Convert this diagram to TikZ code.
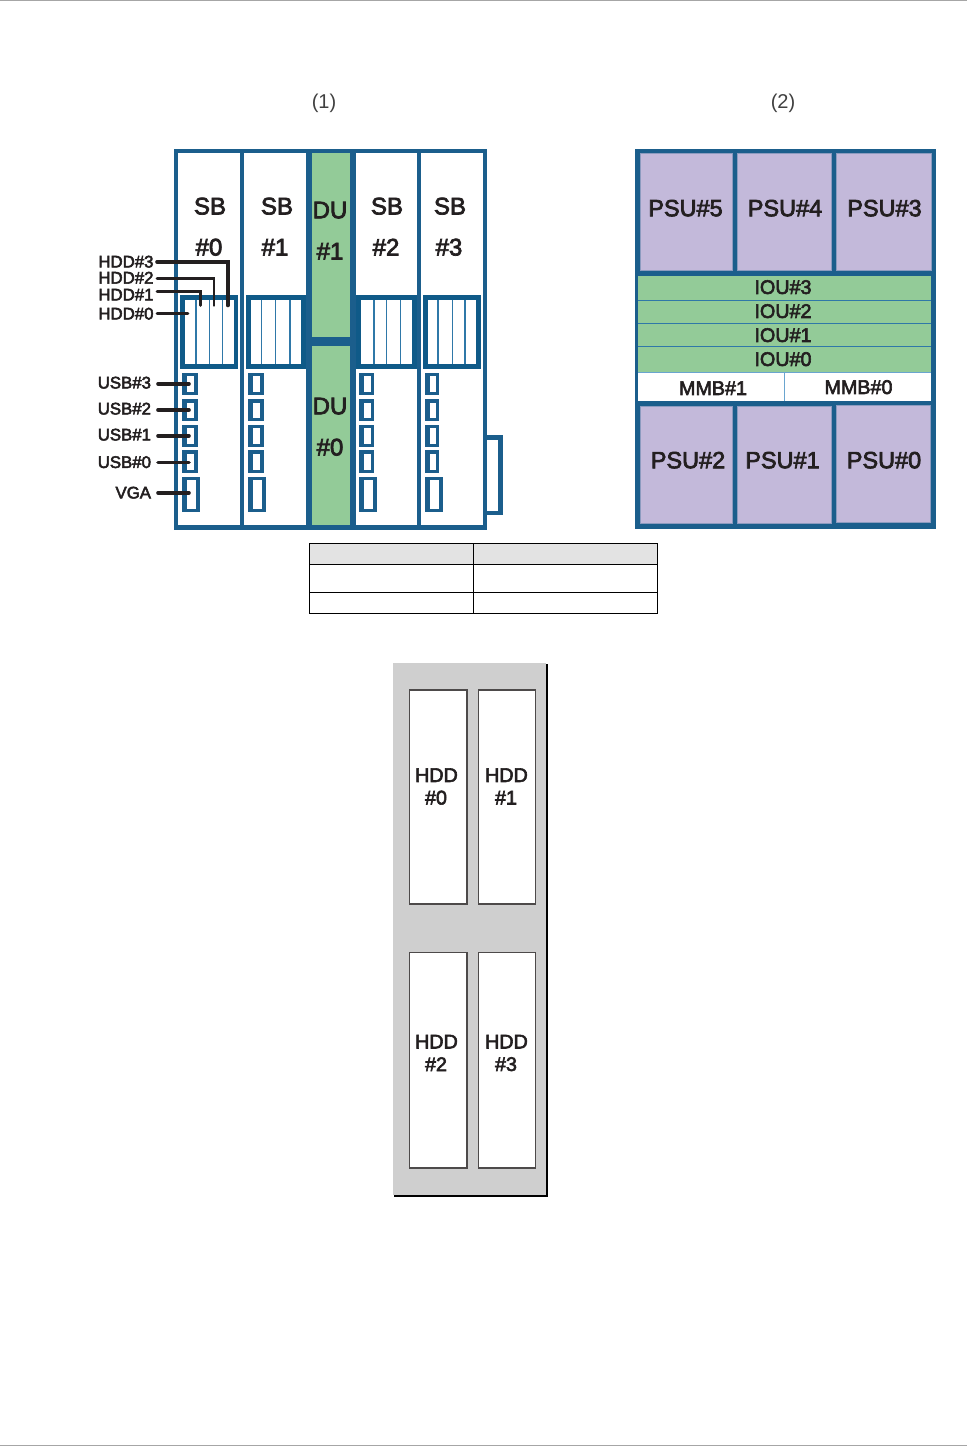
\documentclass[tikz,border=0pt]{standalone}
\usepackage{fontspec}
\setmainfont{Liberation Sans}
\newfontfamily\heavysans[FakeBold=3]{Liberation Sans}
\usetikzlibrary{calc}
\definecolor{frameblue}{HTML}{1B5E8C}
\definecolor{cageblue}{HTML}{0F5A88}
\definecolor{thinblue}{HTML}{2F78A8}
\definecolor{lightline}{HTML}{6AA5CF}
\definecolor{dugreen}{HTML}{93CB98}
\definecolor{psupurple}{HTML}{C3B9DA}
\definecolor{psuedge}{HTML}{8C9BBF}
\definecolor{inkdark}{HTML}{231F20}
\definecolor{panelgray}{HTML}{CFCFCF}
\definecolor{headgray}{HTML}{E3E3E3}
\definecolor{hddedge}{HTML}{4D4A4A}
\definecolor{rulegray}{HTML}{A6A6A6}
\newcommand{\pxfont}[1]{\heavysans\fontsize{#1}{#1}\selectfont}
\tikzset{
  x=0.75pt,y=-0.75pt,
  txt/.style={inner sep=0pt,outer sep=0pt,text=inkdark,anchor=center,yshift=0.25pt},
  bigtxt/.style={txt,font=\pxfont{18}},
  psutxt/.style={txt,font=\pxfont{17.6}},
  midtxt/.style={txt,font=\pxfont{14.8}},
  smalltxt/.style={inner sep=0pt,outer sep=0pt,text=inkdark,anchor=east,font=\pxfont{12.6},yshift=0.25pt},
  captxt/.style={inner sep=0pt,outer sep=0pt,anchor=center,font=\fontsize{15}{15}\selectfont,text=black!75},
  leader/.style={draw=inkdark,line width=2.7pt,line cap=round},
  leaderthin/.style={draw=inkdark,line width=2.1pt,line cap=round},
  psubox/.style={fill=psupurple,draw=psuedge,line width=0.5pt},
  hddbox/.style={fill=white,draw=hddedge,line width=1pt},
  tab/.style={draw=black,line width=0.75pt},
}
\begin{document}
\begin{tikzpicture}
\useasboundingbox (0,0) rectangle (967,1446);
\fill[white] (0,0) rectangle (967,1446);
% page rules
\fill[rulegray] (0,0) rectangle (967,1.2);
\fill[rulegray] (0,1444.6) rectangle (967,1446);
% captions
\node[captxt] (cap1) at (324,103.2) {(1)};
\node[captxt] (cap2) at (783,103.2) {(2)};

% --- unit (1) ---
\fill[frameblue] (173.7,148.8) rectangle (487,530);
\fill[white] (178.3,153.3) rectangle (240,525.3);
\fill[white] (244.3,153.3) rectangle (305.7,525.3);
\fill[dugreen] (312,153.3) rectangle (349.5,336.7);
\fill[dugreen] (312,345.7) rectangle (350,525.3);
\fill[white] (356,153.3) rectangle (416.7,525.3);
\fill[white] (421.3,153.3) rectangle (482.7,525.3);
% bracket
\fill[frameblue] (487,435) rectangle (502.7,515);
\fill[white] (487,439.5) rectangle (498,510.5);
% HDD cages: outerL, outerR, innerL, innerR, d1, d2, d3
\foreach \oa/\ob/\ia/\ib/\da/\db/\dc in {
  179.7/238.3/184.7/233.7/196/209.3/222.7,
  246/306/251/301/261.7/275.7/290,
  356/416.7/361.3/411.7/374/386.7/400.3,
  423/480.7/427.7/476/438/452.3/465}{
  \fill[cageblue] (\oa,295) rectangle (\ob,368.7);
  \fill[white] (\ia,300) rectangle (\ib,364);
  \foreach \d in {\da,\db,\dc}{\draw[thinblue,line width=0.9pt] (\d,300) -- (\d,364);}
}
% USB and VGA ports: left, right, VGA right
\foreach \pa/\pb/\pc in {182.3/197.7/200, 248.3/263.7/266, 359/374.3/376.7, 425.3/439.3/442.7}{
  \foreach \ya/\yb in {372.7/395.3, 399.3/420.7, 425/447.3, 450.3/473}{
    \fill[frameblue] (\pa,\ya) rectangle (\pb,\yb);
    \fill[white] ($(\pa,\ya)+(4.8,3.2)$) rectangle ($(\pb,\yb)+(-3.6,-3.2)$);
  }
  \fill[frameblue] (\pa,477) rectangle (\pc,512.3);
  \fill[white] ($(\pa,477)+(4.8,3.2)$) rectangle ($(\pc,512.3)+(-3.6,-3.2)$);
}
% slot labels
\node[bigtxt] (sb0a) at (210,206.5) {SB};
\node[bigtxt] (sb0b) at (209,247.5) {\#0};
\node[bigtxt] (sb1a) at (277,206.5) {SB};
\node[bigtxt] (sb1b) at (275,247.5) {\#1};
\node[bigtxt] (du1a) at (330,210.5) {DU};
\node[bigtxt] (du1b) at (330,251.5) {\#1};
\node[bigtxt] (du0a) at (330,406.5) {DU};
\node[bigtxt] (du0b) at (330,447.5) {\#0};
\node[bigtxt] (sb2a) at (387,206.5) {SB};
\node[bigtxt] (sb2b) at (386,247.5) {\#2};
\node[bigtxt] (sb3a) at (450,206.5) {SB};
\node[bigtxt] (sb3b) at (449,247.5) {\#3};
% port labels
\node[smalltxt] (lh3) at (153.5,262) {HDD\#3};
\node[smalltxt] (lh2) at (153.5,278) {HDD\#2};
\node[smalltxt] (lh1) at (153.5,295) {HDD\#1};
\node[smalltxt] (lh0) at (153.5,314) {HDD\#0};
\node[smalltxt] (lu3) at (151,383) {USB\#3};
\node[smalltxt] (lu2) at (151,409) {USB\#2};
\node[smalltxt] (lu1) at (151,435) {USB\#1};
\node[smalltxt] (lu0) at (151,462.5) {USB\#0};
\node[smalltxt] (lvg) at (151,493) {VGA};
% leader ends
\coordinate (h3s) at (157,261.7); \coordinate (h3e) at (227.7,305.5);
\coordinate (h2s) at (157,278.3); \coordinate (h2e) at (214,305.5);
\coordinate (h1s) at (157,291.7); \coordinate (h1e) at (200.7,305.5);
\coordinate (h0s) at (157,313.3); \coordinate (h0e) at (188,313.3);
\coordinate (u3s) at (158,383.7); \coordinate (u3e) at (189,383.7);
\coordinate (u2s) at (158,410);   \coordinate (u2e) at (189,410);
\coordinate (u1s) at (158,435.7); \coordinate (u1e) at (189,435.7);
\coordinate (u0s) at (158,462.3); \coordinate (u0e) at (189,462.3);
\coordinate (vgs) at (158,492.7); \coordinate (vge) at (189,492.7);
\draw[leader] (h3s) -| (h3e);
\draw[leaderthin] (h2s) -| (h2e);
\draw[leaderthin] (h1s) -| (h1e);
\draw[leaderthin] (h0s) -- (h0e);
\draw[leader] (u3s) -- (u3e);
\draw[leader] (u2s) -- (u2e);
\draw[leader] (u1s) -- (u1e);
\draw[leader] (u0s) -- (u0e);
\draw[leader] (vgs) -- (vge);

% --- unit (2) ---
\fill[frameblue] (635,148.8) rectangle (936,529);
\filldraw[psubox] (640,153.6) rectangle (732.7,270.5);
\filldraw[psubox] (737.7,153.6) rectangle (831.7,270.5);
\filldraw[psubox] (836.7,153.6) rectangle (931,270.5);
\fill[dugreen] (638.3,275.7) rectangle (931,372);
\foreach \y in {300.7,323.7,346.7}{\draw[thinblue,line width=0.7pt] (638.3,\y) -- (931,\y);}
\fill[white] (638.3,372.6) rectangle (931,400.7);
\draw[lightline,line width=0.7pt] (638.3,372.3) -- (931,372.3);
\draw[lightline,line width=0.7pt] (784,372.3) -- (784,400.7);
\filldraw[psubox] (640,406.8) rectangle (732.7,523.8);
\filldraw[psubox] (737.7,406.8) rectangle (831.7,523.8);
\filldraw[psubox] (836.7,405.4) rectangle (930,522.6);
\node[psutxt] (p5) at (685.5,208.5) {PSU\#5};
\node[psutxt] (p4) at (785,208.5) {PSU\#4};
\node[psutxt] (p3) at (884.5,208.5) {PSU\#3};
\node[midtxt] (i3) at (783,287.5) {IOU\#3};
\node[midtxt] (i2) at (783,311.5) {IOU\#2};
\node[midtxt] (i1) at (783,335.5) {IOU\#1};
\node[midtxt] (i0) at (783,359.5) {IOU\#0};
\node[midtxt] (m1) at (713,388.5) {MMB\#1};
\node[midtxt] (m0) at (858.5,387.5) {MMB\#0};
\node[psutxt] (p2) at (688,460.5) {PSU\#2};
\node[psutxt] (p1) at (782.5,460.5) {PSU\#1};
\node[psutxt] (p0) at (884,460.5) {PSU\#0};

% --- empty table ---
\fill[headgray] (309.3,543.7) rectangle (657.7,564.3);
\draw[tab] (309.3,543.7) rectangle (657.7,613.3);
\draw[tab] (309.3,564.3) -- (657.7,564.3);
\draw[tab] (309.3,592.7) -- (657.7,592.7);
\draw[tab] (473.3,543.7) -- (473.3,613.3);

% --- HDD panel ---
\fill[black] (394,664) rectangle (548,1197);
\fill[panelgray] (392.7,662.7) rectangle (545.7,1195);
\filldraw[hddbox] (409.7,690) rectangle (467,904);
\filldraw[hddbox] (478.5,690) rectangle (535.7,904);
\filldraw[hddbox] (409.7,952.3) rectangle (467,1168);
\filldraw[hddbox] (478.5,952.3) rectangle (535.7,1168);
\node[midtxt] (d0a) at (436.5,775.5) {HDD};
\node[midtxt] (d0b) at (436,798) {\#0};
\node[midtxt] (d1a) at (506.5,775.5) {HDD};
\node[midtxt] (d1b) at (506,798) {\#1};
\node[midtxt] (d2a) at (436.5,1042) {HDD};
\node[midtxt] (d2b) at (436,1064.5) {\#2};
\node[midtxt] (d3a) at (506.5,1042) {HDD};
\node[midtxt] (d3b) at (506,1064.5) {\#3};
\end{tikzpicture}
\end{document}
